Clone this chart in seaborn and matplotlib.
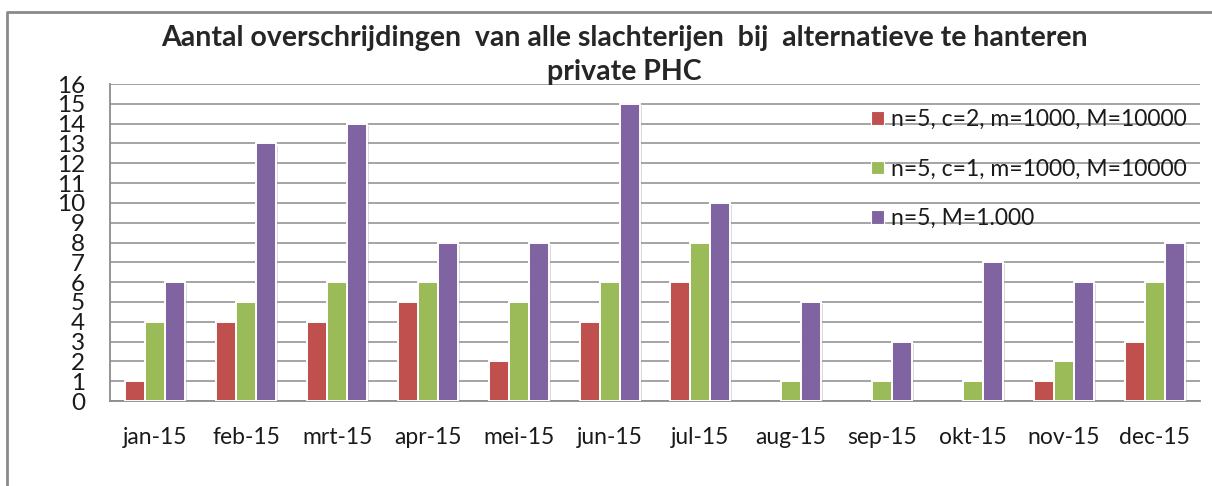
import numpy as np
import pandas as pd
import matplotlib
matplotlib.use("Agg")
import matplotlib.pyplot as plt
import matplotlib.patheffects as pe
from matplotlib.lines import Line2D
from matplotlib.patches import Patch
import seaborn as sns

# data
months = ["jan-15", "feb-15", "mrt-15", "apr-15", "mei-15", "jun-15",
          "jul-15", "aug-15", "sep-15", "okt-15", "nov-15", "dec-15"]
series = ["n=5, c=2, m=1000, M=10000",
          "n=5, c=1, m=1000, M=10000",
          "n=5, M=1.000"]
c2 = [1, 4, 4, 5, 2, 4, 6, 0, 0, 0, 1, 3]
c1 = [4, 5, 6, 6, 5, 6, 8, 1, 1, 1, 2, 6]
m1000 = [6, 13, 14, 8, 8, 15, 10, 5, 3, 7, 6, 8]
colors = ["#C0504D", "#9BBB59", "#8064A2"]

df = pd.DataFrame({
    "maand": months * 3,
    "reeks": [series[0]] * 12 + [series[1]] * 12 + [series[2]] * 12,
    "aantal": c2 + c1 + m1000,
})

sns.set_style("white")
plt.rcParams["font.family"] = ["Lato", "DejaVu Sans"]

fig = plt.figure(figsize=(12.12, 4.86), dpi=100)
ax = fig.add_axes([110 / 1212, 1 - 401 / 486, 1090 / 1212, 317 / 486])

sns.barplot(data=df, x="maand", y="aantal", hue="reeks", order=months,
            hue_order=series, palette=colors, width=0.66, ax=ax,
            edgecolor="white", linewidth=1.4, saturation=1, zorder=3, legend=False)

# soft Excel-like shadow on the bars
shadow = [pe.SimplePatchShadow(offset=(1.5, -1.5), shadow_rgbFace="#999999", alpha=0.35),
          pe.Normal()]
for p in ax.patches:
    if p.get_height() > 0:
        p.set_path_effects(shadow)
    else:
        p.set_visible(False)

ax.set_ylim(0, 16)
ax.set_yticks(range(0, 17))
ax.set_xlim(-0.5, 11.5)
ax.yaxis.grid(True, color="#8c8c8c", linewidth=1.1, zorder=0)
ax.set_axisbelow(True)
ax.set_xlabel("")
ax.set_ylabel("")
for s in ["top", "right"]:
    ax.spines[s].set_visible(False)
for s in ["left", "bottom"]:
    ax.spines[s].set_color("#8c8c8c")
    ax.spines[s].set_linewidth(1.3)
ax.tick_params(axis="y", length=0, pad=18, labelsize=17.5, colors="#1a1a1a")
ax.tick_params(axis="x", length=0, pad=19, labelsize=16.5, colors="#1a1a1a")

handles = [Patch(facecolor=c, edgecolor="white", linewidth=0.8) for c in colors]
leg = ax.legend(handles, series, loc="upper left", bbox_to_anchor=(0.69, 0.95),
                frameon=False, fontsize=16.5, labelspacing=1.25, handlelength=0.55,
                handleheight=0.55, handletextpad=0.3, borderaxespad=0)
for t in leg.get_texts():
    t.set_color("#1a1a1a")

fig.text(0.515, 1 - 38 / 486, "Aantal overschrijdingen  van alle slachterijen  bij  alternatieve te hanteren",
         ha="center", va="center", fontsize=20.5, fontweight="bold")
fig.text(0.515, 1 - 72 / 486, "private PHC", ha="center", va="center",
         fontsize=20.5, fontweight="bold")

# outer chart frame (only left and top edges visible in the crop)
fig.add_artist(Line2D([7 / 1212, 7 / 1212, 1.0], [0.0, 1 - 12 / 486, 1 - 12 / 486],
                      transform=fig.transFigure, color="#8a8a8a", linewidth=2))

fig.savefig("out.png", dpi=100)
